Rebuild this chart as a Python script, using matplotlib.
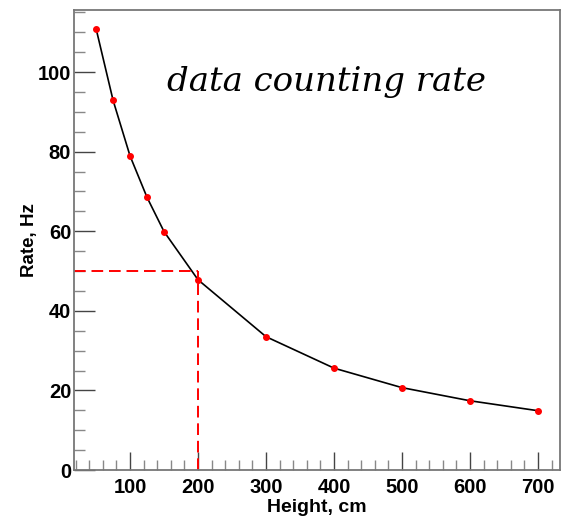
import numpy as np
import matplotlib.pyplot as plt
from matplotlib.ticker import MultipleLocator

height_cm = [50, 75, 100, 125, 150, 200, 300, 400, 500, 600, 700]
rate_hz = [110.9, 92.9, 78.9, 68.5, 59.9, 47.8, 33.5, 25.6, 20.7, 17.4, 14.9]
ref_height = 200
ref_rate = 50

fig = plt.figure(figsize=(5.69, 5.2), dpi=100)
ax = fig.add_axes([74/569, 50/520, (560-74)/569, (470-10)/520])

ax.plot(height_cm, rate_hz, color='black', lw=1.2, zorder=2)
ax.plot(height_cm, rate_hz, 'o', color='red', ms=4, mec='red', zorder=3)

# dashed guide lines at 50 Hz
ax.plot([17.5, ref_height], [ref_rate, ref_rate], '--', color='red', lw=1.4, dashes=(6, 3))
ax.plot([ref_height, ref_height], [0, ref_rate], '--', color='red', lw=1.4, dashes=(6, 3))

ax.set_xlim(17.5, 732.5)
ax.set_ylim(0, 115.6)
ax.xaxis.set_major_locator(MultipleLocator(100))
ax.xaxis.set_minor_locator(MultipleLocator(20))
ax.yaxis.set_major_locator(MultipleLocator(20))
ax.yaxis.set_minor_locator(MultipleLocator(5))
ax.tick_params(which='major', direction='in', color='#444444', width=1)
ax.tick_params(which='minor', direction='in', color='#888888', width=1)
ax.tick_params(axis='x', which='major', length=13)
ax.tick_params(axis='x', which='minor', length=7)
ax.tick_params(axis='y', which='major', length=15)
ax.tick_params(axis='y', which='minor', length=8)
for lab in ax.get_xticklabels() + ax.get_yticklabels():
    lab.set_fontfamily('Liberation Sans')
    lab.set_fontweight('bold')
    lab.set_fontsize(14.5)
ax.tick_params(axis='x', pad=6)
ax.tick_params(axis='y', pad=2)
for s in ax.spines.values():
    s.set_color('#777777')
    s.set_linewidth(1.3)

ax.set_xlabel('Height, cm', family='Liberation Sans', weight='bold', fontsize=14, labelpad=1)
ax.set_ylabel('Rate, Hz', family='Liberation Sans', weight='bold', fontsize=13.5, labelpad=0)

ax.text(0.52, 0.843, 'data counting rate', transform=ax.transAxes, ha='center', va='center',
        family='DejaVu Serif', style='italic', fontsize=24.5)

fig.savefig('out.png', dpi=100)
